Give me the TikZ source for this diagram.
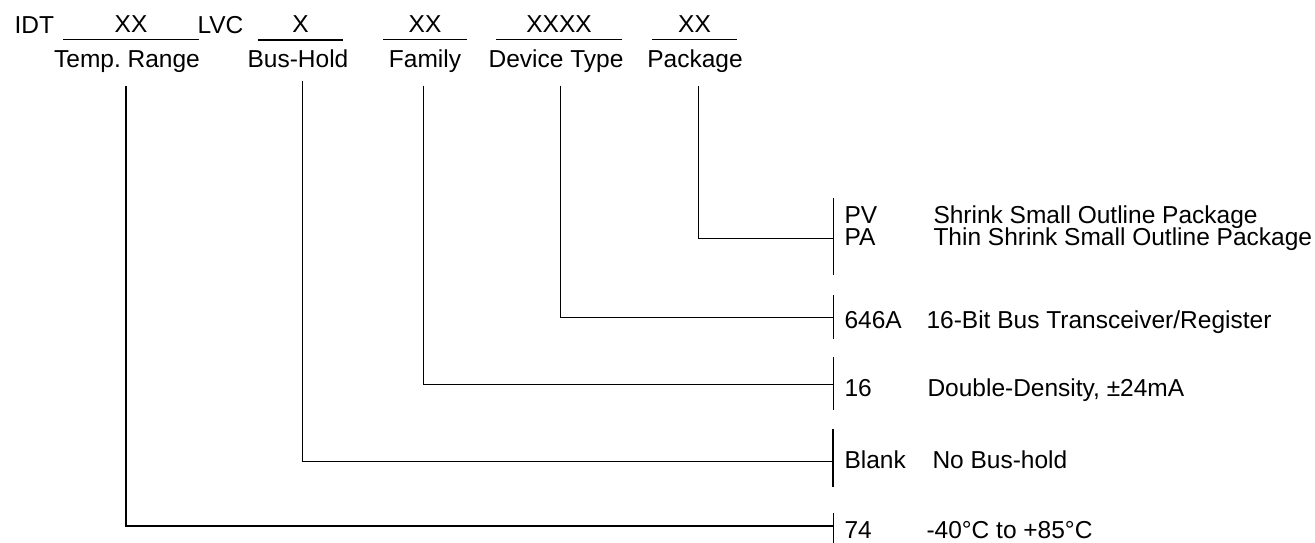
\documentclass[tikz,border=0pt]{standalone}
\usepackage{fontspec}
\setmainfont{Liberation Sans}
\frenchspacing
\begin{document}
\begin{tikzpicture}[x=1bp,y=-1bp,line width=1bp,
	every node/.style={font=\fontsize{24.5bp}{28bp}\selectfont,inner sep=0pt},
	field/.style={anchor=base},
	code/.style={anchor=base west},
	bar/.style={line width=1bp}]
	\useasboundingbox (0,0) rectangle (1315,543);
	% ordering code
	\node[code] (idt) at (14,34) {IDT};
	\node[code] (lvc) at (197,34) {LVC};
	\foreach \l/\r/\xx/\name/\lab/\c in {63/199/XX/temp/Temp. Range/127,
			258/343/X/bus/Bus-Hold/298, 383/467/XX/fam/Family/425,
			496/622/XXXX/dev/Device Type/556, 652/737/XX/pkg/Package/695}{
		\draw (\l,40) -- (\r,40);
		\node[field] (\name x) at ({(\l+\r)/2},33) {\xx};
		\node[field] (\name) at (\c,68) {\lab};
	}
	\draw[line width=1.6bp] (258,40) -- (343,40);
	% ends of the leaders
	\coordinate (pkgbar) at (833,239);
	\coordinate (devbar) at (833,317);
	\coordinate (fambar) at (833,384);
	\coordinate (busbar) at (833,461);
	\coordinate (tempbar) at (833,526);
	\draw ([xshift=3bp,yshift=-12bp]pkg.south) |- (pkgbar);
	\draw ([xshift=4bp,yshift=-12bp]dev.south) |- (devbar);
	\draw ([xshift=-2bp,yshift=-12bp]fam.south) |- (fambar);
	\draw ([xshift=4bp,yshift=-12bp]bus.south) |- (busbar);
	\draw[line width=1.4bp] ([xshift=-1bp,yshift=-12bp]temp.south) |- (tempbar);
	% bars
	\draw[bar] (833,198) -- (833,275);
	\draw[bar] (833,295) -- (833,339);
	\draw[bar] (833,357) -- (833,410);
	\draw[bar,line width=1.6bp] (833,429) -- (833,487);
	\draw[bar] (833,513) -- (833,543);
	% options
	\node[code] (pv) at (844,224) {PV};
	\node[code] (pvtxt) at (933,224) {Shrink Small Outline Package};
	\node[code] (pa) at (844,246) {PA};
	\node[code] (patxt) at (933,246) {Thin Shrink Small Outline Package};
	\node[code] (d646) at (844,328) {646A};
	\node[code] (d646txt) at (926,328) {16-Bit Bus Transceiver/Register};
	\node[code] (f16) at (844,396) {16};
	\node[code] (f16txt) at (927,396) {Double-Density, ±24mA};
	\node[code] (blank) at (844,468) {Blank};
	\node[code] (blanktxt) at (932,468) {No Bus-hold};
	\node[code] (t74) at (844,538) {74};
	\node[code] (t74txt) at (926,538) {-40°C to +85°C};
\end{tikzpicture}
\end{document}
